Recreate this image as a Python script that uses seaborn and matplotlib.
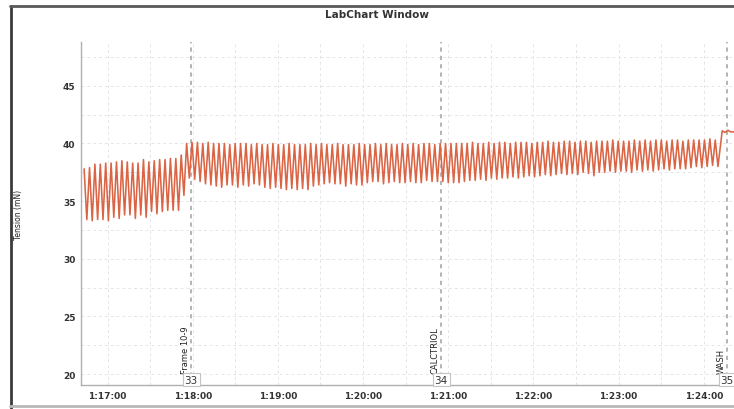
import numpy as np
import pandas as pd
import matplotlib
matplotlib.use("Agg")
import matplotlib.pyplot as plt
import matplotlib.transforms as mtransforms
from matplotlib.lines import Line2D
from matplotlib.ticker import FuncFormatter, MultipleLocator
import seaborn as sns

# ---------------- data ----------------
# per-cycle peak / trough tension (mN), baseline before "Frame 10-9"
peaks_a = [37.8, 37.9, 38.2, 38.2, 38.3, 38.3, 38.4, 38.5, 38.4, 38.3,
           38.3, 38.6, 38.4, 38.5, 38.6, 38.6, 38.7, 38.7]
troughs_a = [33.4, 33.3, 33.4, 33.4, 33.3, 33.6, 33.5, 33.8, 33.8, 33.5,
             33.8, 33.6, 34.1, 33.9, 34.1, 34.2, 34.2, 34.2]
# transition right after the drug
peaks_t = [39.0, 40.0]
troughs_t = [35.5, 37.0]
# after "Frame 10-9" through "CALCTRIOL" until "WASH"
peaks_b = [40.1, 40.1, 40.0, 40.1, 40.0, 40.0, 40.0, 39.9, 40.0, 40.0,
           40.0, 39.9, 40.0, 39.9, 39.9, 40.0, 39.9, 39.9, 40.0, 39.9,
           39.9, 39.9, 40.0, 39.9, 40.0, 39.9, 39.9, 40.0, 39.9, 39.9,
           39.9, 40.0, 39.9, 39.9, 40.0, 39.9, 40.0, 39.9, 39.9, 40.0,
           39.9, 40.0, 39.9, 40.0, 40.0, 39.9, 40.0, 40.0, 40.0, 40.0,
           40.0, 40.0, 40.1, 40.0, 40.0, 40.1, 40.0, 40.1, 40.1, 40.0,
           40.1, 40.1, 40.1, 40.0, 40.1, 40.1, 40.2, 40.1, 40.1, 40.2,
           40.2, 40.1, 40.2, 40.2, 40.1, 40.2, 40.2, 40.2, 40.3, 40.2,
           40.2, 40.2, 40.3, 40.2, 40.3, 40.2, 40.3, 40.3, 40.2, 40.3,
           40.3, 40.2, 40.3, 40.3, 40.3, 40.3, 40.4, 40.3]
troughs_b = [36.9, 36.7, 36.5, 36.4, 36.3, 36.2, 36.4, 36.4, 36.2, 36.4,
             36.3, 36.5, 36.4, 36.2, 36.1, 36.2, 36.1, 36.0, 36.1, 36.0,
             36.1, 36.0, 36.3, 36.4, 36.5, 36.6, 36.5, 36.5, 36.3, 36.5,
             36.4, 36.4, 36.6, 36.7, 36.7, 36.5, 36.6, 36.7, 36.6, 36.6,
             36.7, 36.6, 36.6, 36.8, 36.7, 36.7, 36.7, 36.6, 36.6, 36.6,
             36.7, 36.8, 36.8, 36.9, 36.8, 37.0, 36.9, 37.0, 37.0, 37.1,
             37.0, 37.1, 37.2, 37.1, 37.2, 37.3, 37.2, 37.3, 37.4, 37.3,
             37.4, 37.3, 37.5, 37.4, 37.2, 37.5, 37.5, 37.6, 37.5, 37.6,
             37.6, 37.5, 37.7, 37.6, 37.7, 37.6, 37.7, 37.8, 37.7, 37.8,
             37.8, 37.8, 37.9, 38.0, 37.9, 38.0, 38.1, 38.0]
# after WASH
tail_time = [5053.0, 5055.0, 5057.0, 5059.0, 5063.0]
tail_tension = [41.1, 40.95, 41.15, 41.0, 41.0]

trace_start = 4603.5      # s (1:16:43.5)
half_period = 1.9         # s between successive extrema (sampling of extrema)

event_times = [4678.8, 4855.0, 5056.5]
event_labels = ["Frame 10-9", "CALCTRIOL", "WASH"]
event_numbers = ["33", "34", "35"]

y_ticks = [20, 25, 30, 35, 40, 45]
x_ticks = [4620, 4680, 4740, 4800, 4860, 4920, 4980, 5040]

# ---------------- build trace ----------------
peaks = peaks_a + peaks_t + peaks_b
troughs = troughs_a + troughs_t + troughs_b
ext = []
for p, t in zip(peaks, troughs):
    ext += [p, t]
times = trace_start + half_period * np.arange(len(ext))
df = pd.DataFrame({"time": np.concatenate([times, tail_time]),
                   "tension": np.concatenate([ext, tail_tension])})

# ---------------- plot ----------------
sns.set_style("white")
plt.rcParams["font.family"] = ["DejaVu Sans"]

W, H = 734, 410
fig = plt.figure(figsize=(W / 100, H / 100), dpi=100)
fig.patch.set_facecolor("white")
ax = fig.add_axes([81 / W, 1 - 386 / H, 1 - 81 / W, (386 - 43) / H])

ax.set_xlim(4601.3, 5061.3)
ax.set_ylim(19.05, 48.8)

# grid
ax.set_yticks(y_ticks)
ax.yaxis.set_minor_locator(MultipleLocator(2.5))
ax.set_xticks(x_ticks)
ax.xaxis.set_minor_locator(MultipleLocator(30))
ax.grid(which="both", color="#e2e6eb", ls=(0, (3, 3)), lw=0.7)
ax.set_axisbelow(True)

for t in event_times:
    ax.axvline(t, color="#a8a8a8", ls=(0, (2.5, 2.5)), lw=1.2, zorder=1)

sns.lineplot(data=df, x="time", y="tension", ax=ax, estimator=None,
             sort=False, color="#da6444", lw=1.15, zorder=3)

def fmt(v, pos):
    v = int(round(v))
    return f"{v // 3600}:{(v % 3600) // 60:02d}:{v % 60:02d}"

ax.xaxis.set_major_formatter(FuncFormatter(fmt))
ax.set_xlabel("")
ax.set_ylabel("")
ax.tick_params(axis="x", which="major", length=3, color="#aaaaaa", pad=1,
               labelsize=6.5, labelcolor="#333333")
ax.tick_params(axis="y", which="major", length=2, color="#aaaaaa", pad=2,
               labelsize=6.5, labelcolor="#333333")
ax.tick_params(which="minor", length=0)
for lab in ax.get_xticklabels() + ax.get_yticklabels():
    lab.set_fontweight("bold")

for s in ["top", "right"]:
    ax.spines[s].set_visible(False)
for s in ["left", "bottom"]:
    ax.spines[s].set_color("#b0b0b0")
    ax.spines[s].set_linewidth(1.0)

# event labels
trans = mtransforms.blended_transform_factory(ax.transData, ax.transAxes)
for t, lab, num in zip(event_times, event_labels, event_numbers):
    ax.text(t - 4.0, 20.05, lab, rotation=90, ha="center", va="bottom",
            fontsize=6, color="#222222", zorder=5)
    ax.text(t, 0.016, num, transform=trans, ha="center", va="center",
            fontsize=7.5, color="#333333", zorder=6, clip_on=False,
            bbox=dict(boxstyle="square,pad=0.18", fc="white", ec="#c4c4c4", lw=0.8))

# window frame and labels
fig.add_artist(Line2D([11 / W, 11 / W], [0, 1 - 7 / H], transform=fig.transFigure,
                      color="#3a3a3a", lw=2.0))
fig.add_artist(Line2D([10 / W, 1], [1 - 7 / H, 1 - 7 / H], transform=fig.transFigure,
                      color="#5a5a5a", lw=2.0))
fig.add_artist(Line2D([10 / W, 1], [1 - 407 / H, 1 - 407 / H], transform=fig.transFigure,
                      color="#b8b8b8", lw=2.0))
fig.text(377 / W, 1 - 15 / H, "LabChart Window", ha="center", va="center",
         fontsize=7.5, fontweight="bold", color="#333333")
fig.text(18 / W, 1 - 215 / H, "Tension (mN)", rotation=90, ha="center", va="center",
         fontsize=5.5, color="#222222")

fig.savefig("out.png", dpi=100)
